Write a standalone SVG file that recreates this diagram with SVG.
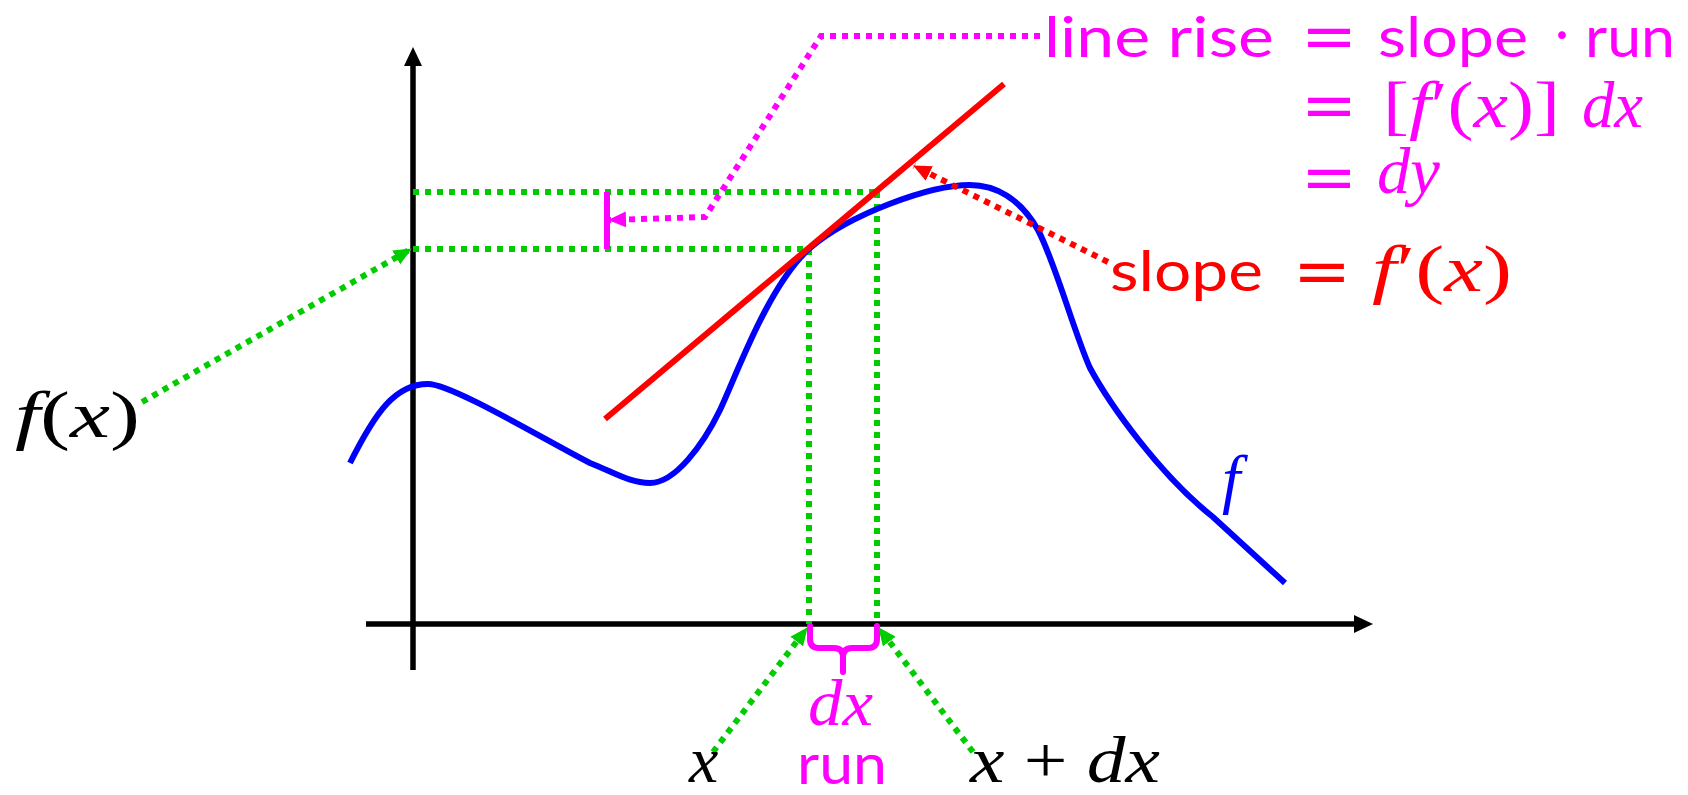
<svg xmlns="http://www.w3.org/2000/svg" width="1688" height="795" viewBox="0 0 1688 795">
<style>
.ax{stroke:#000;stroke-width:5.5;fill:none}
.dot{stroke-width:6;stroke-dasharray:6 6;fill:none}
.g{stroke:#00cc00}
.m{stroke:#ff00ff}
.r{stroke:#ff0000}
.sans{font-family:Lato,"Open Sans","Liberation Sans",sans-serif;font-size:56px}
.math{font-family:"Liberation Serif","DejaVu Serif",serif;font-size:66px}
.eq{font-family:"Liberation Serif","DejaVu Serif",serif;font-size:66px;stroke-width:1.8}
.it{font-style:italic}
</style>
<defs>
<marker id="ag" viewBox="0 0 18 16" markerWidth="18" markerHeight="16" refX="17" refY="8" orient="auto" markerUnits="userSpaceOnUse"><path d="M0,0L18,8L0,16z" fill="#00cc00"/></marker>
<marker id="am" viewBox="0 0 18 16" markerWidth="18" markerHeight="16" refX="17" refY="8" orient="auto" markerUnits="userSpaceOnUse"><path d="M0,0L18,8L0,16z" fill="#ff00ff"/></marker>
<marker id="ar" viewBox="0 0 18 16" markerWidth="18" markerHeight="16" refX="17" refY="8" orient="auto" markerUnits="userSpaceOnUse"><path d="M0,0L18,8L0,16z" fill="#ff0000"/></marker>
</defs>
<rect width="1688" height="795" fill="#fff"/>

<g id="axes">
<path class="ax" d="M413,670L413,62"/>
<polygon points="413,47 404,66 422,66" fill="#000"/>
<path class="ax" d="M366,624L1356,624"/>
<polygon points="1373,624 1354,615 1354,633" fill="#000"/>
</g>

<g id="guides">
<path class="dot g" d="M413,192L877,192"/>
<path class="dot g" d="M413,249L809,249"/>
<path class="dot g" d="M809,249L809,624"/>
<path class="dot g" d="M877,192L877,624"/>
</g>

<g id="curve-f">
<path d="M350,463C375,413 395,384 428,384C452,384 545,440 590,463C615,473 630,483 650,483C675,483 703,445 720,410C735,379 768,285 810,248C850,214 930,185 970,185C995,185 1020,198 1038,230C1055,262 1075,335 1090,368C1110,405 1160,475 1213,517L1285,583" fill="none" stroke="#0000ff" stroke-width="6"/>
</g>

<g id="tangent">
<path d="M605,419L1004,84" stroke="#ff0000" stroke-width="6" fill="none"/>
</g>

<g id="rise-tick">
<path d="M607,192L607,249" stroke="#ff00ff" stroke-width="6" fill="none"/>
</g>

<g id="brace">
<path d="M810,626L810,639Q810,648 819,648L834,648Q843,648 843,657L843,672M843,657Q843,648 852,648L868,648Q877,648 877,639L877,626" stroke="#ff00ff" stroke-width="6" fill="none" stroke-linecap="round" stroke-linejoin="round"/>
</g>

<g id="connectors">
<path class="dot g" d="M142,402L411,249" marker-end="url(#ag)"/>
<path class="dot g" d="M713,752L807,628" marker-end="url(#ag)"/>
<path class="dot g" d="M973,752L879,628" marker-end="url(#ag)"/>
<path class="dot m" d="M1040,36L821,36L705,217L609,220" marker-end="url(#am)"/>
<path class="dot r" d="M1108,262L914,166" marker-end="url(#ar)"/>
</g>

<g id="label-fx">
<text class="math" x="15" y="437" textLength="125" lengthAdjust="spacingAndGlyphs"><tspan class="it">f</tspan>(<tspan class="it">x</tspan>)</text>
</g>

<g id="label-f" fill="#0000ff">
<text class="math it" x="1222" y="501">f</text>
</g>

<g id="label-x">
<text class="math it" x="689" y="782">x</text>
</g>

<g id="label-xdx">
<text class="math" x="970" y="782" textLength="190" lengthAdjust="spacingAndGlyphs"><tspan class="it">x</tspan> + <tspan class="it">dx</tspan></text>
</g>

<g id="label-run" fill="#ff00ff">
<text><tspan class="math it" x="808" y="725" font-size="56" textLength="65" lengthAdjust="spacingAndGlyphs">dx</tspan><tspan class="sans" x="797" y="784" font-size="60" textLength="90" lengthAdjust="spacingAndGlyphs">run</tspan></text>
</g>

<g id="label-rise" fill="#ff00ff">
<text class="sans" x="1044" y="57" textLength="230" lengthAdjust="spacingAndGlyphs">line rise</text>
<text class="eq" stroke="#ff00ff"><tspan x="1305" y="60" textLength="48" lengthAdjust="spacingAndGlyphs">=</tspan><tspan x="1305" y="129" textLength="48" lengthAdjust="spacingAndGlyphs">=</tspan><tspan x="1305" y="201" textLength="48" lengthAdjust="spacingAndGlyphs">=</tspan></text>
<text class="sans" x="1378" y="57" textLength="150" lengthAdjust="spacingAndGlyphs">slope</text>
<text class="math" x="1551" y="57">·</text>
<text class="sans" x="1585" y="57" textLength="90" lengthAdjust="spacingAndGlyphs">run</text>
<text class="math" x="1383" y="127" textLength="177" lengthAdjust="spacingAndGlyphs">[<tspan class="it">f</tspan>′(<tspan class="it">x</tspan>)]</text>
<text class="math it" x="1582" y="127" textLength="61" lengthAdjust="spacingAndGlyphs">dx</text>
<text class="math it" x="1377" y="193" textLength="63" lengthAdjust="spacingAndGlyphs">dy</text>
</g>

<g id="label-slope" fill="#ff0000">
<text class="sans" x="1110" y="291" textLength="153" lengthAdjust="spacingAndGlyphs">slope</text>
<text class="eq" x="1297" y="295" textLength="50" lengthAdjust="spacingAndGlyphs" stroke="#ff0000">=</text>
<text class="math" x="1372" y="291" textLength="140" lengthAdjust="spacingAndGlyphs"><tspan class="it">f</tspan>′(<tspan class="it">x</tspan>)</text>
</g>
</svg>
